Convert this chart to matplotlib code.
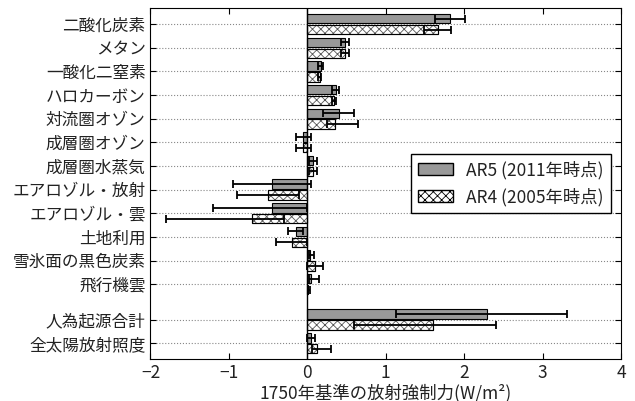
import matplotlib
matplotlib.use('Agg')
import matplotlib.pyplot as plt
import matplotlib.patches as mpatches
import numpy as np

plt.rcParams['font.family'] = ['Noto Sans CJK JP', 'DejaVu Sans']
plt.rcParams['hatch.linewidth'] = 0.6

# 項目名
categories = ['二酸化炭素', 'メタン', '一酸化二窒素', 'ハロカーボン', '対流圏オゾン',
              '成層圏オゾン', '成層圏水蒸気', 'エアロゾル・放射', 'エアロゾル・雲',
              '土地利用', '雪氷面の黒色炭素', '飛行機雲', '人為起源合計', '全太陽放射照度']

# AR5 (2011年時点): 中央値, 下限, 上限
ar5_val = [1.82, 0.48, 0.17, 0.36, 0.40, -0.05, 0.07, -0.45, -0.45, -0.15, 0.04, 0.05, 2.29, 0.05]
ar5_low = [1.63, 0.43, 0.14, 0.32, 0.20, -0.15, 0.02, -0.95, -1.20, -0.25, 0.02, 0.02, 1.13, 0.00]
ar5_high = [2.01, 0.53, 0.20, 0.40, 0.60, 0.05, 0.12, 0.05, 0.00, -0.05, 0.09, 0.15, 3.31, 0.10]

# AR4 (2005年時点)
ar4_val = [1.66, 0.48, 0.16, 0.34, 0.35, -0.05, 0.07, -0.50, -0.70, -0.20, 0.10, 0.01, 1.60, 0.12]
ar4_low = [1.49, 0.43, 0.14, 0.31, 0.25, -0.15, 0.02, -0.90, -1.80, -0.40, 0.00, 0.003, 0.60, 0.06]
ar4_high = [1.83, 0.53, 0.18, 0.37, 0.65, 0.05, 0.12, -0.10, -0.30, 0.00, 0.20, 0.03, 2.40, 0.30]

# 縦位置 (合計の前に隙間)
ypos = np.array(list(range(12)) + [12.5, 13.5])

fig = plt.figure(figsize=(6.35, 4.01), dpi=100)
ax = fig.add_axes([0.237, 0.104, 0.741, 0.877])

h = 0.4
off = 0.23
ar5_color = '#999999'

ax.barh(ypos - off, ar5_val, height=h, color=ar5_color, edgecolor='black', linewidth=0.8, zorder=3)
ax.barh(ypos + off, ar4_val, height=h, color='white', edgecolor='#555555', hatch='xxxx',
        linewidth=0.8, zorder=3)
# 黒い枠線を上書き
ax.barh(ypos + off, ar4_val, height=h, color='none', edgecolor='black', linewidth=0.8, zorder=3)

ar5_val = np.array(ar5_val)
ar4_val = np.array(ar4_val)
ax.errorbar(ar5_val, ypos - off,
            xerr=[ar5_val - np.array(ar5_low), np.array(ar5_high) - ar5_val],
            fmt='none', ecolor='black', elinewidth=1.3, capsize=3, capthick=1.3, zorder=4)
ax.errorbar(ar4_val, ypos + off,
            xerr=[ar4_val - np.array(ar4_low), np.array(ar4_high) - ar4_val],
            fmt='none', ecolor='black', elinewidth=1.3, capsize=3, capthick=1.3, zorder=4)

ax.axvline(0, color='black', linewidth=1.0, zorder=5)

ax.set_yticks(ypos)
ax.set_yticklabels(categories, fontsize=12, color='#222222')
ax.set_ylim(14.18, -0.70)
ax.set_xlim(-2, 4)
ax.set_xticks([-2, -1, 0, 1, 2, 3, 4])
ax.tick_params(axis='x', labelsize=12.5, labelcolor='#222222')
ax.tick_params(direction='in', top=True, right=True, length=4)
ax.yaxis.grid(True, linestyle=':', color='#888888', linewidth=0.8)
ax.set_axisbelow(True)
ax.set_xlabel('1750年基準の放射強制力(W/m²)', fontsize=12.5, labelpad=1, color='#222222')

h5 = mpatches.Patch(facecolor=ar5_color, edgecolor='black', label='AR5 (2011年時点)')
h4 = mpatches.Patch(facecolor='white', edgecolor='black', hatch='xxxx', label='AR4 (2005年時点)')
leg = ax.legend(handles=[h5, h4], loc='center right', bbox_to_anchor=(0.997, 0.5),
                fontsize=12.5, fancybox=False, edgecolor='black', framealpha=1)
leg.get_frame().set_linewidth(1.0)
for t in leg.get_texts():
    t.set_color('#222222')

fig.savefig('out.png', dpi=100)
